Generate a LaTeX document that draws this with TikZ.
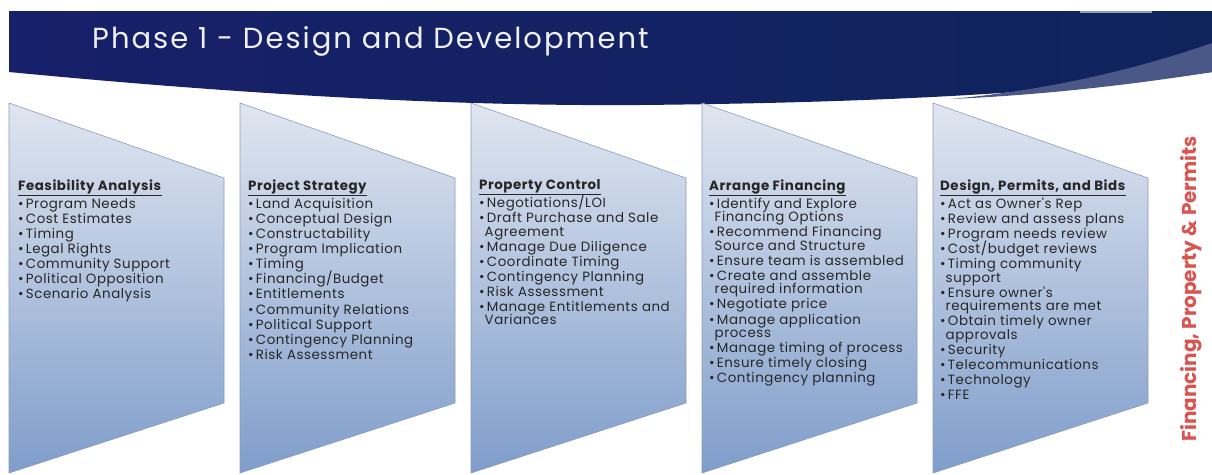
\documentclass[tikz,border=0pt]{standalone}
\usepackage{fontspec}
\setmainfont{Poppins}
\newfontfamily\bodyfont{Poppins}[LetterSpace=4]
\newfontfamily\titlefont{Poppins}[LetterSpace=7]
\newcommand{\bodysetup}{\bodyfont\fontsize{13.4}{13.4}\selectfont\setlength{\lineskiplimit}{-20pt}}
\definecolor{navyL}{HTML}{17206A}
\definecolor{purpM}{HTML}{3A1290}
\definecolor{navyR}{HTML}{10245C}
\definecolor{swoosh}{HTML}{4A5888}
\definecolor{ptop}{HTML}{E0E6F0}
\definecolor{pbot}{HTML}{7F9DCB}
\definecolor{pedge}{HTML}{8C9BB6}
\definecolor{redtxt}{HTML}{D9534F}
\definecolor{bodytxt}{HTML}{262626}
\tikzset{
  panel/.style={top color=ptop, bottom color=pbot, draw=pedge, line width=0.6pt},
  paneltext/.style={anchor=north west, align=left, inner sep=0pt, text=bodytxt,
    font=\bodysetup},
}
\newcommand{\hd}[1]{\underline{\textbf{#1}}\\[4.5pt]}
\newcommand{\bu}{•\,}
\newcommand{\cont}{\hphantom{•}}
\newcommand{\nx}{\\[1.7pt]}
\begin{document}
\begin{tikzpicture}[x=1pt,y=-1pt]
\useasboundingbox (0,0) rectangle (1212,474);
% banner
\shade[left color=navyL, middle color=purpM, right color=navyR]
  (9,11) -- (1212,11) -- (1212,72)
  .. controls (1050,95) and (850,103) .. (640,105)
  .. controls (500,106) and (300,100) .. (9,72) -- cycle;
\fill[swoosh] (1212,43) .. controls (1120,75) and (1030,92) .. (950,99)
  .. controls (1050,95) and (1150,82) .. (1212,72) -- cycle;
\fill[color=swoosh!60!white] (1080,11) rectangle (1152,13);
\node[anchor=base west, inner sep=0pt, text=white!94!black,
  font=\titlefont\fontsize{29}{32}\selectfont] (title) at (92,48) {Phase 1 - Design and Development};
% panels
\foreach \i in {0,...,4}{
  \pgfmathsetmacro{\xo}{9+231*\i}
  \path[panel] (\xo,103) -- (\xo+215,178) -- (\xo+215,403) -- (\xo,473) -- cycle;
}
\node[paneltext] (t1) at (18,179.5) {\hd{Feasibility Analysis}
\bu Program Needs\nx
\bu Cost Estimates\nx
\bu Timing\nx
\bu Legal Rights\nx
\bu Community Support\nx
\bu Political Opposition\nx
\bu Scenario Analysis};
\node[paneltext] (t2) at (248,179.5) {\hd{Project Strategy}
\bu Land Acquisition\nx
\bu Conceptual Design\nx
\bu Constructability\nx
\bu Program Implication\nx
\bu Timing\nx
\bu Financing/Budget\nx
\bu Entitlements\nx
\bu Community Relations\nx
\bu Political Support\nx
\bu Contingency Planning\nx
\bu Risk Assessment};
\node[paneltext] (t3) at (479,179.5) {\hd{Property Control}
\bu Negotiations/LOI\nx
\bu Draft Purchase and Sale\\
\cont Agreement\nx
\bu Manage Due Diligence\nx
\bu Coordinate Timing\nx
\bu Contingency Planning\nx
\bu Risk Assessment\nx
\bu Manage Entitlements and\\
\cont Variances};
\node[paneltext] (t4) at (709,179.5) {\hd{Arrange Financing}
\bu Identify and Explore\\
\cont Financing Options\nx
\bu Recommend Financing\\
\cont Source and Structure\nx
\bu Ensure team is assembled\nx
\bu Create and assemble\\
\cont required information\nx
\bu Negotiate price\nx
\bu Manage application\\
\cont process\nx
\bu Manage timing of process\nx
\bu Ensure timely closing\nx
\bu Contingency planning};
\node[paneltext] (t5) at (940,179.5) {\hd{Design, Permits, and Bids}
\bu Act as Owner's Rep\nx
\bu Review and assess plans\nx
\bu Program needs review\nx
\bu Cost/budget reviews\nx
\bu Timing community\\
\cont support\nx
\bu Ensure owner's\\
\cont requirements are met\nx
\bu Obtain timely owner\\
\cont approvals\nx
\bu Security\nx
\bu Telecommunications\nx
\bu Technology\nx
\bu FFE};
\node[rotate=90, text=redtxt, inner sep=0pt,
  font=\fontsize{20}{22}\bfseries\selectfont] (side) at (1191,289) {Financing, Property \& Permits};
\end{tikzpicture}
\end{document}
